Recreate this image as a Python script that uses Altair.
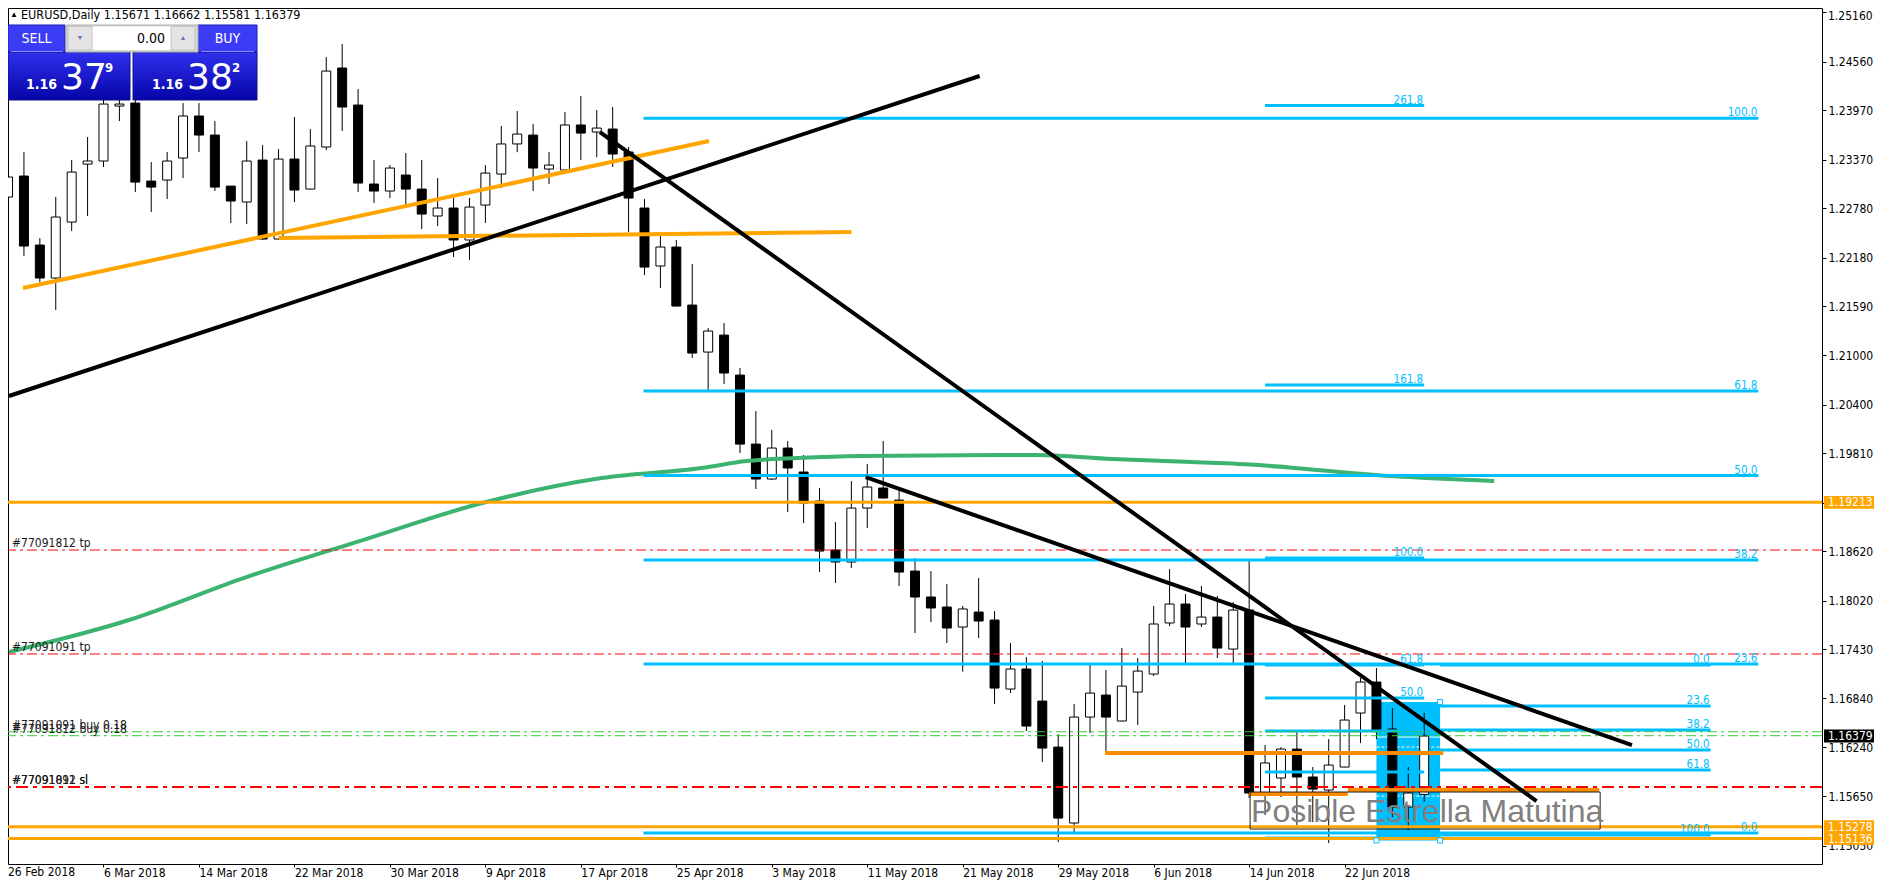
import altair as alt
import pandas as pd

# ---------------- values ----------------
date_labels = ["26 Feb 2018", "6 Mar 2018", "14 Mar 2018", "22 Mar 2018", "30 Mar 2018",
               "9 Apr 2018", "17 Apr 2018", "25 Apr 2018", "3 May 2018", "11 May 2018",
               "21 May 2018", "29 May 2018", "6 Jun 2018", "14 Jun 2018", "22 Jun 2018"]
date_ticks = [0, 6, 12, 18, 24, 30, 36, 42, 48, 54, 60, 66, 72, 78, 84]
price_ticks = [1.2516, 1.2456, 1.2397, 1.2337, 1.2278, 1.2218, 1.2159, 1.2100, 1.2040,
               1.1981, 1.1921, 1.1862, 1.1802, 1.1743, 1.1684, 1.1624, 1.1565, 1.1505]

bar_open = [1.22916, 1.23171, 1.22334, 1.21934, 1.22613, 1.23316, 1.23353, 1.24020, 1.24056, 1.23110,
            1.23122, 1.23389, 1.23899, 1.23668, 1.23049, 1.22856, 1.23365, 1.22407, 1.23377, 1.23013,
            1.23523, 1.24481, 1.24032, 1.23074, 1.22989, 1.23183, 1.23013, 1.22686, 1.22783, 1.22395,
            1.22819, 1.23195, 1.23560, 1.23668, 1.23256, 1.23244, 1.23790, 1.23705, 1.23741, 1.23462,
            1.22783, 1.22080, 1.22310, 1.21606, 1.21036, 1.21242, 1.20757, 1.19920, 1.19496, 1.19872,
            1.19581, 1.19229, 1.18635, 1.18490, 1.19144, 1.19387, 1.19241, 1.18380, 1.18065, 1.17944,
            1.17701, 1.17883, 1.17786, 1.16949, 1.17192, 1.16803, 1.16245, 1.15324, 1.16609, 1.16876,
            1.16561, 1.16912, 1.17131, 1.17750, 1.17980, 1.17738, 1.17822, 1.17434, 1.17907, 1.15688,
            1.15870, 1.16221, 1.15882, 1.15724, 1.16003, 1.16658, 1.17034, 1.16464, 1.15518, 1.15671]
bar_high = [1.23571, 1.23462, 1.22419, 1.22917, 1.23365, 1.23644, 1.24153, 1.24150, 1.24150, 1.23341,
            1.23462, 1.24056, 1.24056, 1.23838, 1.23050, 1.23595, 1.23547, 1.23498, 1.23887, 1.23741,
            1.24614, 1.24772, 1.24226, 1.23365, 1.23304, 1.23450, 1.23365, 1.23147, 1.22904, 1.22904,
            1.23304, 1.23777, 1.23960, 1.23802, 1.23462, 1.23947, 1.24141, 1.23971, 1.24008, 1.23523,
            1.22892, 1.22455, 1.22395, 1.22104, 1.21327, 1.21388, 1.20842, 1.20321, 1.20090, 1.19957,
            1.19787, 1.19387, 1.18974, 1.19472, 1.19678, 1.19957, 1.19363, 1.18538, 1.18380, 1.18222,
            1.17956, 1.18295, 1.17895, 1.17507, 1.17337, 1.17289, 1.16403, 1.16767, 1.17240, 1.17179,
            1.17446, 1.17325, 1.17956, 1.18404, 1.18101, 1.18198, 1.18077, 1.18004, 1.18526, 1.16270,
            1.16245, 1.16452, 1.16003, 1.16342, 1.16755, 1.17082, 1.17204, 1.16718, 1.16003, 1.16662]
bar_low = [1.22783, 1.22201, 1.21885, 1.21546, 1.22504, 1.22686, 1.23280, 1.23838, 1.22977, 1.22734,
           1.22892, 1.23147, 1.23462, 1.22989, 1.22601, 1.22589, 1.22395, 1.22395, 1.22856, 1.23010,
           1.23486, 1.23717, 1.22977, 1.22844, 1.22904, 1.22820, 1.22528, 1.22565, 1.22189, 1.22152,
           1.22601, 1.23025, 1.23460, 1.22989, 1.23074, 1.23230, 1.23365, 1.23400, 1.23280, 1.22492,
           1.21970, 1.21813, 1.21590, 1.20964, 1.20551, 1.20648, 1.19811, 1.19375, 1.19484, 1.19096,
           1.18962, 1.18368, 1.18235, 1.18417, 1.18902, 1.19260, 1.18198, 1.17628, 1.17762, 1.17507,
           1.17160, 1.17568, 1.16767, 1.16900, 1.16440, 1.16064, 1.15093, 1.15190, 1.16415, 1.16173,
           1.16560, 1.16512, 1.17107, 1.17713, 1.17264, 1.17701, 1.17325, 1.17252, 1.15627, 1.15420,
           1.15639, 1.15299, 1.15336, 1.15081, 1.16000, 1.16294, 1.16342, 1.15396, 1.15239, 1.15581]
bar_close = [1.23159, 1.22322, 1.21934, 1.22674, 1.23219, 1.23353, 1.24044, 1.24044, 1.23098, 1.23037,
             1.23353, 1.23899, 1.23668, 1.23037, 1.22868, 1.23353, 1.22407, 1.23377, 1.23001, 1.23535,
             1.24444, 1.24008, 1.23086, 1.22989, 1.23268, 1.23013, 1.22710, 1.22783, 1.22395, 1.22795,
             1.23207, 1.23560, 1.23680, 1.23268, 1.23304, 1.23790, 1.23692, 1.23753, 1.23438, 1.22904,
             1.22067, 1.22310, 1.21594, 1.21024, 1.21291, 1.20782, 1.19920, 1.19496, 1.19872, 1.19630,
             1.19205, 1.18623, 1.18490, 1.19144, 1.19399, 1.19266, 1.18368, 1.18065, 1.17932, 1.17689,
             1.17920, 1.17774, 1.16961, 1.17192, 1.16500, 1.16233, 1.15384, 1.16609, 1.16900, 1.16609,
             1.16985, 1.17167, 1.17738, 1.17980, 1.17701, 1.17822, 1.17446, 1.17907, 1.15688, 1.16052,
             1.16221, 1.15882, 1.15736, 1.16027, 1.16573, 1.17034, 1.16452, 1.15518, 1.15688, 1.16379]

# moving average (green), knots: bar index / price
ma_bar = [0.06, 7.6, 14.8, 22.3, 29.8, 37.3, 43.6, 46.4, 49.6, 53.6, 64.6, 69.4, 74.4, 78.6, 81.6, 85.9, 89.1, 93.4]
ma_price = [1.17398, 1.17786, 1.18295, 1.18756, 1.19205, 1.19508, 1.19630, 1.19714, 1.19750, 1.19775,
            1.19787, 1.19738, 1.19702, 1.19666, 1.19617, 1.19544, 1.19508, 1.19472]

# drawn trend lines: start / end (bar index, price)
black_from_bar = [0.06, 37.2, 53.9]
black_from_price = [1.20503, 1.23705, 1.19520]
black_to_bar = [61.06, 96.06, 102.06]
black_to_price = [1.24384, 1.15591, 1.16270]

orange_from_bar = [0.94, 17.0]
orange_from_price = [1.21813, 1.22419]
orange_to_bar = [44.06, 53.0]
orange_to_price = [1.23595, 1.22492]

dorange_from_bar = [68.94, 84.2, 78.0]
dorange_to_bar = [90.2, 100.0, 84.2]
dorange_price = [1.16173, 1.15725, 1.15676]

# horizontal levels
orange_levels = [1.19213, 1.15278, 1.15136]
tp_levels = [1.18635, 1.17374]
tp_names = ["#77091812 tp", "#77091091 tp"]
sl_levels = [1.15760, 1.15760]
sl_names = ["#77091091 sl", "#77091812 sl"]
buy_levels = [1.16431, 1.16383]
buy_names = ["#77091091 buy 0.18", "#77091812 buy 0.18"]

# fibonacci objects
fibA_labels = ["100.0", "61.8", "50.0", "38.2", "23.6", "0.0"]
fibA_prices = [1.23871, 1.20563, 1.19538, 1.18513, 1.17252, 1.15202]
fibA_from, fibA_to = 39.94, 110.0
fibB_labels = ["261.8", "161.8", "100.0", "61.8", "50.0", "38.2", "23.6", "0.0"]
fibB_prices = [1.24026, 1.20636, 1.18538, 1.17240, 1.16840, 1.16440, 1.15942, 1.15142]
fibB_shown = ["261.8", "161.8", "100.0", "61.8", "50.0"]
fibB_from, fibB_to = 79.0, 89.0
fibC_labels = ["0.0", "23.6", "38.2", "50.0", "61.8", "100.0"]
fibC_prices = [1.17240, 1.16743, 1.16452, 1.16209, 1.15966, 1.15178]
fibC_from, fibC_to = 90.0, 107.0

# blue zone rectangle and text note
zone_bars = [86.0, 90.0]
zone_prices = [1.16791, 1.15112]
zone_solid = [1.16367]
zone_dashed = [1.16245, 1.15651]
note_bars = [78.06, 100.06]
note_prices = [1.15700, 1.15251]
note_text = "Posible Estrella Matutina"
note_baseline = 1.15336

# price tags on the right axis
tag_prices = [1.19213, 1.15278, 1.15136, 1.16379]
tag_colors = ["#FFA500", "#FFA500", "#FFA500", "#000000"]

title_text = "EURUSD,Daily  1.15671 1.16662 1.15581 1.16379"

# ---------------- layout ----------------
FONT = "DejaVu Sans Condensed, DejaVu Sans"
W, H = 1814, 856
PAD_R, PAD_B = 52, 16
XMIN, XMAX = 0.3125, 113.6875
YMAX, YMIN = 1.25209, 1.14827
PPU = H / (YMAX - YMIN)
HALF = 6.5 / PPU

BLUE = "#00BFFF"
ORANGE = "#FFA500"
DORANGE = "#FF8C00"

xs = alt.Scale(domain=[XMIN, XMAX], nice=False, zero=False)
ys = alt.Scale(domain=[YMIN, YMAX], nice=False, zero=False)
lab_expr = "[" + ",".join("'%s'" % d for d in date_labels) + "][round(datum.value/6)]"
x_axis = alt.Axis(values=date_ticks[1:], labelExpr=lab_expr, orient="bottom", grid=False, domain=False,
                  tickSize=3, tickColor="black", labelAlign="left", labelBaseline="top", labelPadding=0,
                  labelFont=FONT, labelFontSize=12, labelColor="black", labelFlush=False,
                  labelOverlap=False, labelBound=False)
# the top price label is drawn separately so that it stays inside the page
y_axis = alt.Axis(values=price_ticks, format=".5f", orient="right", grid=False, domain=False,
                  labelExpr="datum.value > %f ? '' : datum.label" % (price_ticks[0] - 0.001),
                  tickSize=4, tickColor="black", labelAlign="left", labelBaseline="middle",
                  labelPadding=2, labelFont=FONT, labelFontSize=12, labelColor="black",
                  labelFlush=False, labelOverlap=False, labelBound=False)


def X(f):
    return alt.X(f, type="quantitative", scale=xs, axis=x_axis, title=None)


def Y(f):
    return alt.Y(f, type="quantitative", scale=ys, axis=y_axis, title=None)


one = pd.DataFrame({"k": [0]})


def box(x1, y1, x2, y2, **kw):
    return alt.Chart(one).mark_rect(**kw).encode(
        x=alt.value(x1), x2=alt.value(x2), y=alt.value(y1), y2=alt.value(y2))


def txt(s, x, y, **kw):
    return alt.Chart(one).mark_text(text=s, **kw).encode(x=alt.value(x), y=alt.value(y))


def hline(x1, x2, y, color, w=1):
    return alt.Chart(one).mark_rule(color=color, strokeWidth=w).encode(
        x=alt.value(x1), x2=alt.value(x2), y=alt.value(y))


layers = []

# blue zone (background object)
zone = pd.DataFrame({"x": [zone_bars[0]], "x2": [zone_bars[1]], "y": [zone_prices[0]], "y2": [zone_prices[1]]})
layers.append(alt.Chart(zone).mark_rect(color=BLUE, clip=True).encode(x=X("x"), x2="x2", y=Y("y"), y2="y2"))
zs = pd.DataFrame({"y": zone_solid, "x": [zone_bars[0]], "x2": [zone_bars[1]]})
layers.append(alt.Chart(zs).mark_rule(color="white", strokeWidth=1).encode(x=X("x"), x2="x2", y=Y("y")))
zd = pd.DataFrame({"y": zone_dashed, "x": [zone_bars[0]] * 2, "x2": [zone_bars[1]] * 2})
layers.append(alt.Chart(zd).mark_rule(color="white", strokeWidth=1, strokeDash=[3, 2]).encode(
    x=X("x"), x2="x2", y=Y("y")))

# candles
cd = pd.DataFrame({"i": list(range(len(bar_open))), "o": bar_open, "h": bar_high, "l": bar_low, "c": bar_close})
cd["dir"] = ["up" if c >= o else "down" for o, c in zip(bar_open, bar_close)]
layers.append(alt.Chart(cd).mark_rule(color="black", strokeWidth=1, clip=True).encode(
    x=X("i"), y=Y("l"), y2="h"))
layers.append(alt.Chart(cd).mark_bar(width=9, stroke="black", strokeWidth=1, clip=True).encode(
    x=X("i"), y=Y("o"), y2="c",
    fill=alt.Fill("dir:N", scale=alt.Scale(domain=["up", "down"], range=["white", "black"]), legend=None)))

# moving average
ma = pd.DataFrame({"x": ma_bar, "y": ma_price})
layers.append(alt.Chart(ma).mark_line(color="#3CB371", strokeWidth=4, interpolate="monotone", clip=True).encode(
    x=X("x"), y=Y("y")))

# fibonacci lines
for lbls, prs, a, b in [(fibA_labels, fibA_prices, fibA_from, fibA_to),
                        (fibB_labels, fibB_prices, fibB_from, fibB_to),
                        (fibC_labels, fibC_prices, fibC_from, fibC_to)]:
    fd = pd.DataFrame({"lvl": lbls, "y": prs, "x": [a] * len(prs), "x2": [b] * len(prs)})
    layers.append(alt.Chart(fd).mark_rule(color=BLUE, strokeWidth=3, clip=True).encode(
        x=X("x"), x2="x2", y=Y("y")))

# full-width horizontal lines
layers.append(alt.Chart(pd.DataFrame({"y": orange_levels})).mark_rule(color=ORANGE, strokeWidth=3).encode(y=Y("y")))
layers.append(alt.Chart(pd.DataFrame({"y": tp_levels})).mark_rule(
    color="#FF0000", strokeWidth=1, strokeDash=[10, 4, 3, 4]).encode(y=Y("y")))
layers.append(alt.Chart(pd.DataFrame({"y": sl_levels[:1]})).mark_rule(
    color="#FF0000", strokeWidth=2, strokeDash=[12, 5, 4, 5]).encode(y=Y("y")))
layers.append(alt.Chart(pd.DataFrame({"y": buy_levels})).mark_rule(
    color="#32CD32", strokeWidth=1, strokeDash=[10, 4, 3, 4]).encode(y=Y("y")))

# orange trend segments
od = pd.DataFrame({"x": orange_from_bar, "y": orange_from_price, "x2": orange_to_bar, "y2": orange_to_price})
layers.append(alt.Chart(od).mark_rule(color=ORANGE, strokeWidth=4, clip=True).encode(
    x=X("x"), y=Y("y"), x2="x2", y2="y2"))
dd = pd.DataFrame({"x": dorange_from_bar, "x2": dorange_to_bar, "y": dorange_price})
layers.append(alt.Chart(dd).mark_rule(color=DORANGE, strokeWidth=4, clip=True).encode(
    x=X("x"), x2="x2", y=Y("y")))

# black trend lines
bd = pd.DataFrame({"x": black_from_bar, "y": black_from_price, "x2": black_to_bar, "y2": black_to_price})
layers.append(alt.Chart(bd).mark_rule(color="black", strokeWidth=4, clip=True).encode(
    x=X("x"), y=Y("y"), x2="x2", y2="y2"))

# note box and text
nd = pd.DataFrame({"x": [note_bars[0]], "x2": [note_bars[1]], "y": [note_prices[0]], "y2": [note_prices[1]],
                   "t": [note_text], "b": [note_baseline]})
layers.append(alt.Chart(nd).mark_rect(fill="white", fillOpacity=0, stroke="#202020", strokeWidth=1,
                                      clip=True).encode(x=X("x"), x2="x2", y=Y("y"), y2="y2"))
layers.append(alt.Chart(nd).mark_text(align="left", baseline="alphabetic", dx=1, font="Liberation Sans",
                                      fontSize=32, color="#808080").encode(x=X("x"), y=Y("b"), text="t:N"))

# zone handles
hd = pd.DataFrame({"x": [zone_bars[1], zone_bars[0], zone_bars[1]],
                   "y": [zone_prices[0], zone_prices[1], zone_prices[1]]})
layers.append(alt.Chart(hd).mark_square(size=25, fill="white", stroke=BLUE, strokeWidth=1, filled=True,
                                        opacity=1).encode(x=X("x"), y=Y("y")))

# fibonacci labels
for lbls, prs, b, shown in [(fibA_labels, fibA_prices, fibA_to, fibA_labels),
                            (fibB_labels, fibB_prices, fibB_to, fibB_shown),
                            (fibC_labels, fibC_prices, fibC_to, fibC_labels)]:
    rows = [(l, p) for l, p in zip(lbls, prs) if l in shown]
    fl = pd.DataFrame({"t": [r[0] for r in rows], "y": [r[1] for r in rows], "x": [b] * len(rows)})
    layers.append(alt.Chart(fl).mark_text(align="right", baseline="alphabetic", dx=-1, dy=-2, font=FONT,
                                          fontSize=11.5, color=BLUE).encode(x=X("x"), y=Y("y"), text="t:N"))

# order labels (left side)
ol = pd.DataFrame({"t": tp_names + buy_names + sl_names, "y": tp_levels + buy_levels + sl_levels})
layers.append(alt.Chart(ol).mark_text(align="left", baseline="alphabetic", dy=-3, font=FONT, fontSize=12,
                                      color="#1a1a1a").encode(x=alt.value(4), y=Y("y"), text="t:N"))

# price tags on the axis
tg = pd.DataFrame({"p": tag_prices, "c": tag_colors})
layers.append(alt.Chart(tg).transform_calculate(top="datum.p + %f" % HALF, bot="datum.p - %f" % HALF)
              .mark_rect().encode(x=alt.value(W + 2), x2=alt.value(W + PAD_R), y=Y("top"), y2="bot",
                                  fill=alt.Fill("c:N", scale=None)))
layers.append(alt.Chart(tg).mark_text(align="left", baseline="middle", font=FONT, fontSize=12,
                                      color="white").encode(x=alt.value(W + 6), y=Y("p"),
                                                            text=alt.Text("p:Q", format=".5f")))

# top price label (kept inside the page edge)
layers.append(txt("%.5f" % price_ticks[0], W + 6, 2.5, align="left", baseline="top", font=FONT, fontSize=12,
                  color="black"))

# first date label (its tick lies left of the plot frame)
layers.append(txt(date_labels[0], 0, H + 3, align="left", baseline="top", font=FONT, fontSize=12,
                  color="black"))

# title line
layers.append(txt("\u25B2", 2, 7, align="left", baseline="middle", fontSize=8, color="black"))
layers.append(txt(title_text, 13, 7, align="left", baseline="middle", font=FONT, fontSize=12.5,
                  color="black"))

# one-click trading panel
grad = alt.LinearGradient(gradient="linear", x1=0, x2=0, y1=0, y2=1,
                          stops=[alt.GradientStop(color="#3030ee", offset=0),
                                 alt.GradientStop(color="#0505a8", offset=1)])
head = "#3c3cf6"
layers += [
    box(0, 17, 57, 44, fill=head, stroke="#1a1ab8", strokeWidth=1),
    box(0, 44, 122, 92, fill=grad, stroke="#10108a", strokeWidth=1),
    box(190, 17, 249, 44, fill=head, stroke="#1a1ab8", strokeWidth=1),
    box(125, 44, 249, 92, fill=grad, stroke="#10108a", strokeWidth=1),
    box(58, 17, 190, 44, fill="#d6d6d6", stroke="#b0b0b0", strokeWidth=1),
    box(60, 18.5, 187, 42, fill="white"),
    box(60, 18.5, 84, 42, fill="#e4e4e4", stroke="#c4c4c4", strokeWidth=1),
    box(163, 18.5, 187, 42, fill="#e4e4e4", stroke="#c4c4c4", strokeWidth=1),
    hline(3, 55, 43.5, "#8c8cff"),
    hline(193, 246, 43.5, "#8c8cff"),
    txt("SELL", 28.5, 30.5, align="center", baseline="middle", font=FONT, fontSize=14, color="white"),
    txt("BUY", 219.5, 30.5, align="center", baseline="middle", font=FONT, fontSize=14, color="white"),
    txt("0.00", 157, 30.5, align="right", baseline="middle", font=FONT, fontSize=14, color="black"),
    txt("\u25BC", 72, 30, align="center", baseline="middle", fontSize=7, color="#6478b4"),
    txt("\u25B2", 175, 29.5, align="center", baseline="middle", fontSize=7, color="#6478b4"),
    txt("1.16", 18, 81, align="left", baseline="alphabetic", font=FONT, fontSize=14, fontWeight="bold", color="white"),
    txt("37", 53, 81, align="left", baseline="alphabetic", font="DejaVu Sans", fontSize=36, color="white"),
    txt("9", 97, 64, align="left", baseline="alphabetic", font=FONT, fontSize=13, fontWeight="bold", color="white"),
    txt("1.16", 144, 81, align="left", baseline="alphabetic", font=FONT, fontSize=14, fontWeight="bold", color="white"),
    txt("38", 179, 81, align="left", baseline="alphabetic", font="DejaVu Sans", fontSize=36, color="white"),
    txt("2", 224, 64, align="left", baseline="alphabetic", font=FONT, fontSize=13, fontWeight="bold", color="white"),
]

chart = alt.layer(*layers).properties(
    width=W, height=H,
    autosize=alt.AutoSizeParams(type="none"),
    padding={"left": 0, "top": 0, "right": PAD_R, "bottom": PAD_B},
    background="white",
).configure_view(stroke="black", strokeWidth=1)

chart.save("out.html", embed_options={"renderer": "svg", "actions": False})
